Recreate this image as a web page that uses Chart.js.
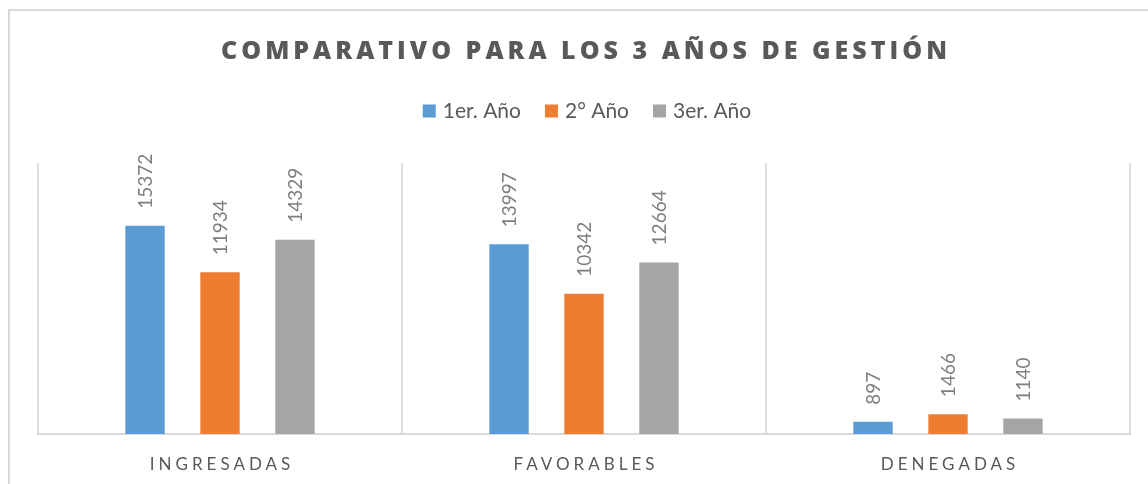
<!DOCTYPE html>
<html>
<head>
<meta charset="utf-8">
<script src="https://cdn.jsdelivr.net/npm/chart.js@4/dist/chart.umd.min.js"></script>
<style>
  html, body { margin: 0; padding: 0; background: #fff; }
  #marco { position: absolute; left: 8px; top: 9px; width: 1140px; height: 475px;
           border-left: 2px solid #d9d9d9; border-top: 2px solid #d9d9d9; }
  #grafico { position: absolute; left: 0; top: 0; }
</style>
</head>
<body>
<div id="marco"></div>
<canvas id="grafico" width="1148" height="484"></canvas>
<script>
"use strict";

// datos
var titulo = "COMPARATIVO PARA LOS 3 AÑOS DE GESTIÓN";
var categorias = ["INGRESADAS", "FAVORABLES", "DENEGADAS"];
var series = ["1er. Año", "2° Año", "3er. Año"];
var anio1 = [15372, 13997, 897];
var anio2 = [11934, 10342, 1466];
var anio3 = [14329, 12664, 1140];
var colores = ["#5b9bd5", "#ed7d31", "#a5a5a5"];

// texto con espaciado, centrado en x
function textoEspaciado(ctx, texto, x, y, espacio) {
  ctx.letterSpacing = espacio + "px";
  var ancho = ctx.measureText(texto).width - espacio;
  ctx.textAlign = "left";
  ctx.fillText(texto, x - ancho / 2, y);
  ctx.letterSpacing = "0px";
}

var textosPlugin = {
  id: "textos",
  afterDraw: function (chart) {
    var ctx = chart.ctx;
    var area = chart.chartArea;
    var centro = (area.left + area.right) / 2;
    ctx.save();
    ctx.textBaseline = "alphabetic";

    //titulo: espaciado para que ocupe ~726px
    ctx.fillStyle = "#595959";
    ctx.font = "800 25px 'Open Sans'";
    ctx.letterSpacing = "0px";
    var anchoTitulo = ctx.measureText(titulo).width;
    var espacioTitulo = (726 - anchoTitulo) / (titulo.length - 1);
    textoEspaciado(ctx, titulo, centro, 59, espacioTitulo);

    //leyenda
    ctx.font = "21px Lato";
    var caja = 13;
    var items = chart.data.datasets.map(function (ds) {
      return { label: ds.label, color: ds.backgroundColor, ancho: ctx.measureText(ds.label).width };
    });
    var total = 0;
    items.forEach(function (it, i) {
      total += caja + 7 + it.ancho + (i < items.length - 1 ? 24 : 0);
    });
    var x = centro + 3 - total / 2;
    items.forEach(function (it) {
      ctx.fillStyle = it.color;
      ctx.fillRect(x, 104.5, caja, caja);
      ctx.fillStyle = "#595959";
      ctx.fillText(it.label, x + caja + 7, 118);
      x += caja + 7 + it.ancho + 24;
    });

    //etiquetas del eje x
    var escalaX = chart.scales.x;
    ctx.font = "17px Lato";
    ctx.fillStyle = "#595959";
    chart.data.labels.forEach(function (lab, i) {
      textoEspaciado(ctx, lab, escalaX.getPixelForValue(i), 470, 4);
    });

    //etiquetas de datos rotadas
    ctx.font = "19px Lato";
    ctx.fillStyle = "#7f7f7f";
    ctx.textAlign = "left";
    ctx.textBaseline = "middle";
    chart.data.datasets.forEach(function (ds, i) {
      chart.getDatasetMeta(i).data.forEach(function (barra, j) {
        ctx.save();
        ctx.translate(barra.x + 1, barra.y - 17);
        ctx.rotate(-Math.PI / 2);
        ctx.fillText(String(ds.data[j]), 0, 0);
        ctx.restore();
      });
    });
    ctx.restore();
  }
};

var ctxGrafico = document.getElementById("grafico").getContext("2d");
var grafico = new Chart(ctxGrafico, {
  type: "bar",
  data: {
    labels: categorias,
    datasets: [
      { label: series[0], data: anio1, backgroundColor: colores[0] },
      { label: series[1], data: anio2, backgroundColor: colores[1] },
      { label: series[2], data: anio3, backgroundColor: colores[2] }
    ]
  },
  options: {
    responsive: false,
    animation: false,
    devicePixelRatio: 1,
    layout: { padding: { top: 163, left: 38, right: 18, bottom: 50 } },
    datasets: { bar: { categoryPercentage: 0.618, barPercentage: 0.525 } },
    plugins: {
      legend: { display: false },
      title: { display: false },
      tooltip: { enabled: false }
    },
    scales: {
      x: {
        grid: { display: true, color: "#e0e0e0", lineWidth: 2, drawTicks: false, offset: true },
        border: { display: true, color: "#d9d9d9", width: 2 },
        ticks: { display: false }
      },
      y: {
        display: false,
        min: 0,
        max: 20000
      }
    }
  },
  plugins: [textosPlugin]
});
</script>
</body>
</html>
